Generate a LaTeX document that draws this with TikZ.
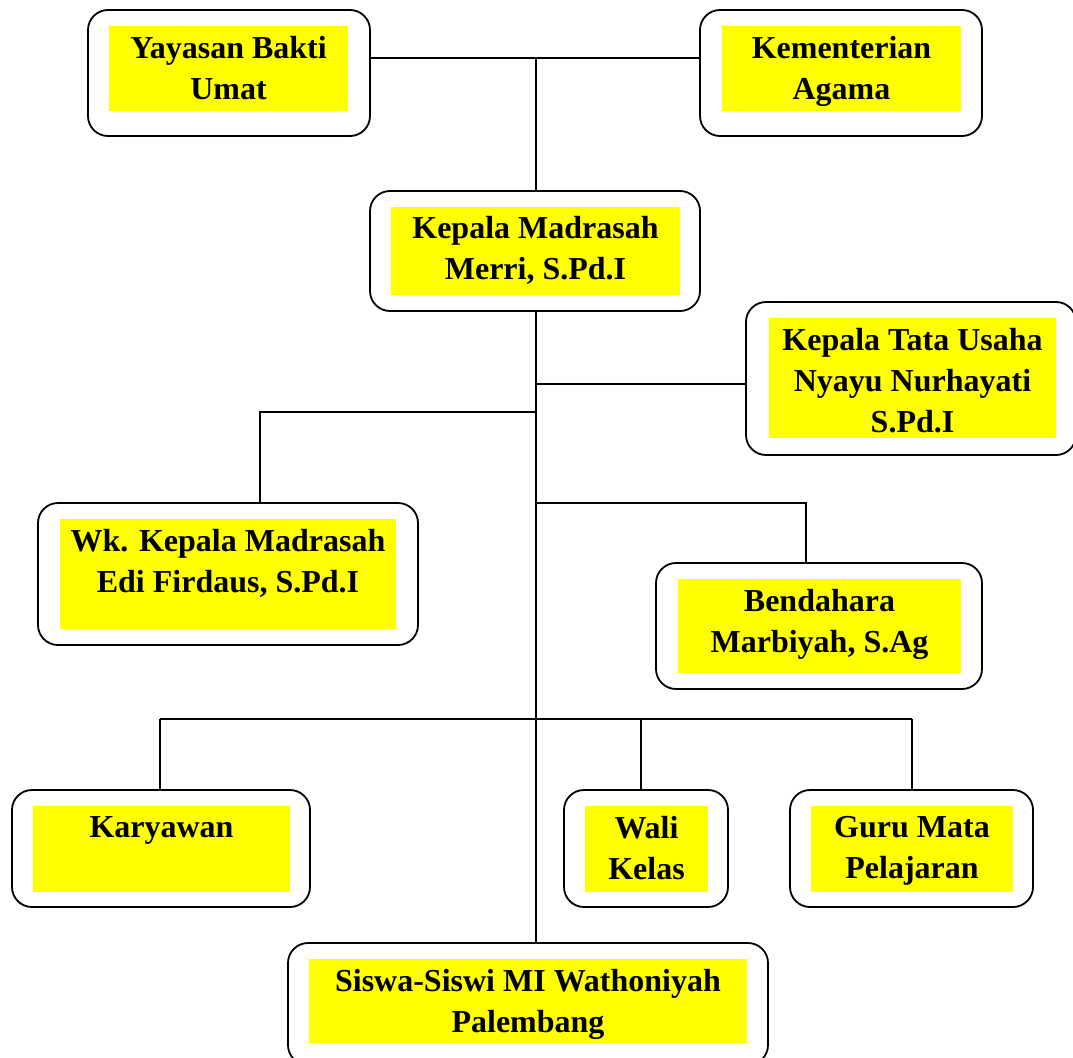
\documentclass[tikz,border=0pt]{standalone}
\usepackage{fontspec}
\setmainfont{Liberation Serif}
\definecolor{boxyellow}{RGB}{255,255,0}
\begin{document}
\begin{tikzpicture}[x=1pt,y=-1pt,
  outerbox/.style={draw=black, line width=1.8pt, rounded corners=20pt, fill=white, inner sep=0pt},
  ylw/.style={fill=boxyellow, draw=none, inner sep=0pt},
  lbl/.style={font=\fontsize{32}{41}\selectfont\bfseries, align=center, inner sep=0pt, anchor=north},
  conn/.style={line width=1.8pt}]
\useasboundingbox (0,0) rectangle (1073,1057);

% boxes
\node[outerbox, minimum width=282pt, minimum height=126pt] (yay) at (229,73) {};
\node[ylw, minimum width=239pt, minimum height=85pt] (yayY) at (228.5,68.5) {};
\node[lbl] (yayT) at (228.5,36) {Yayasan Bakti\\Umat};

\node[outerbox, minimum width=282pt, minimum height=126pt] (kem) at (841,73) {};
\node[ylw, minimum width=239pt, minimum height=85pt] (kemY) at (841.5,68.5) {};
\node[lbl] (kemT) at (841.5,36) {Kementerian\\Agama};

\node[outerbox, minimum width=330pt, minimum height=120pt] (kep) at (535,251) {};
\node[ylw, minimum width=289pt, minimum height=88pt] (kepY) at (535.5,251) {};
\node[lbl] (kepT) at (535.5,216.5) {Kepala Madrasah\\Merri, S.Pd.I};

\node[outerbox, minimum width=330pt, minimum height=153pt] (ktu) at (911,378.5) {};
\node[ylw, minimum width=287pt, minimum height=120pt] (ktuY) at (912.5,378) {};
\node[lbl] (ktuT) at (912.5,328) {Kepala Tata Usaha\\Nyayu Nurhayati\\S.Pd.I};

\node[outerbox, minimum width=380pt, minimum height=142pt] (wk) at (228,574) {};
\node[ylw, minimum width=336pt, minimum height=110pt] (wkY) at (228,574) {};
\node[lbl] (wkT) at (228,529) {Wk. Kepala Madrasah\\Edi Firdaus, S.Pd.I};

\node[outerbox, minimum width=326pt, minimum height=126pt] (ben) at (819,626) {};
\node[ylw, minimum width=283pt, minimum height=94pt] (benY) at (819.5,626) {};
\node[lbl] (benT) at (819.5,589) {Bendahara\\Marbiyah, S.Ag};

\node[outerbox, minimum width=298pt, minimum height=117pt] (kar) at (161,848.5) {};
\node[ylw, minimum width=257pt, minimum height=86pt] (karY) at (161.5,849) {};
\node[lbl] (karT) at (161.5,816.5) {Karyawan};

\node[outerbox, minimum width=164pt, minimum height=117pt] (wal) at (646,848.5) {};
\node[ylw, minimum width=123pt, minimum height=86pt] (walY) at (646.5,849) {};
\node[lbl] (walT) at (646.5,816) {Wali\\Kelas};

\node[outerbox, minimum width=243pt, minimum height=117pt] (guru) at (911.5,848.5) {};
\node[ylw, minimum width=202pt, minimum height=86pt] (guruY) at (912,849) {};
\node[lbl] (guruT) at (912,816) {Guru Mata\\Pelajaran};

\node[outerbox, minimum width=480pt, minimum height=122pt] (sis) at (528,1004) {};
\node[ylw, minimum width=438pt, minimum height=84pt] (sisY) at (528,1001) {};
\node[lbl] (sisT) at (528,969) {Siswa-Siswi MI Wathoniyah\\Palembang};

% junction coordinates
\coordinate (jtop) at (536,58);
\coordinate (jktu) at (536,384);
\coordinate (jwk) at (536,412);
\coordinate (wkin) at (260,503);
\coordinate (jben) at (536,503);
\coordinate (benin) at (806,563);
\coordinate (jbus) at (536,719);
\coordinate (karin) at (160,790);
\coordinate (walin) at (641,790);
\coordinate (guruin) at (912,790);

% connectors
\draw[conn] (yay.east |- jtop) -- (kem.west |- jtop);
\draw[conn] (jtop) -- (jtop |- kep.north);
\draw[conn] (jtop |- kep.south) -- (jtop |- sis.north);
\draw[conn] (jktu) -- (jktu -| ktu.west);
\draw[conn] (jwk) -| (wkin);
\draw[conn] (jben) -| (benin);
\draw[conn] (karin |- jbus) -- (guruin |- jbus);
\draw[conn] (karin |- jbus) -- (karin);
\draw[conn] (walin |- jbus) -- (walin);
\draw[conn] (guruin |- jbus) -- (guruin);
\end{tikzpicture}
\end{document}
